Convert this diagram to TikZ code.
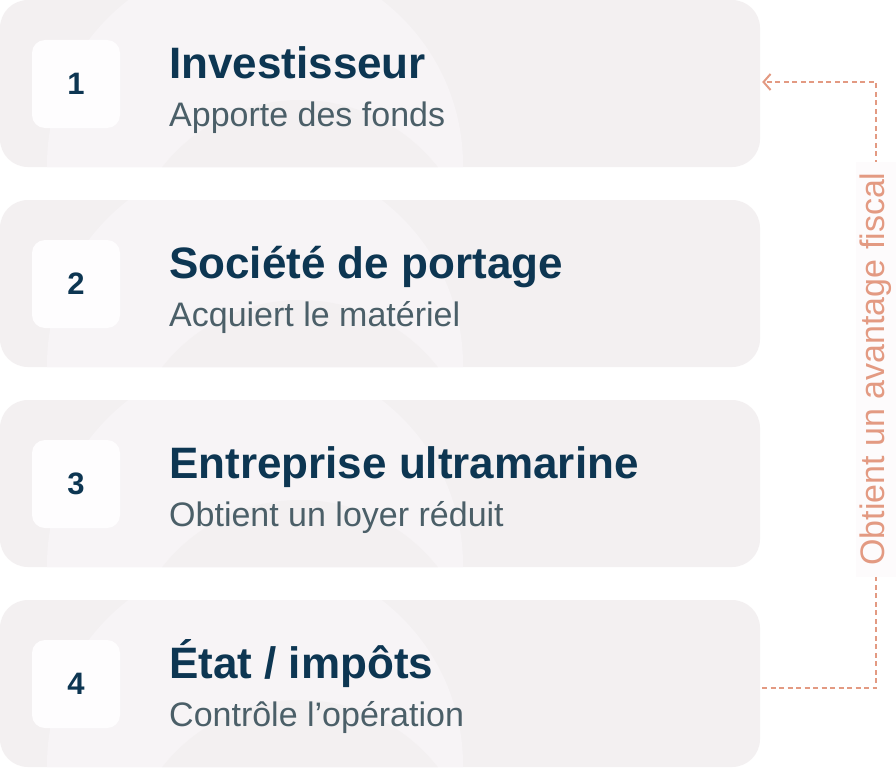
\documentclass[tikz,border=0pt]{standalone}
\usepackage{fontspec}
\setmainfont{Liberation Sans}
\usetikzlibrary{arrows.meta}
\definecolor{boxbg}{HTML}{F3F0F1}
\definecolor{boxlight}{HTML}{F7F4F6}
\definecolor{numbg}{HTML}{FEFDFE}
\definecolor{navy}{HTML}{0D3652}
\definecolor{slate}{HTML}{4B5F68}
\definecolor{salmon}{HTML}{E39A82}
\definecolor{labbg}{HTML}{FDFBFC}
\tikzset{
  stepbox/.style={rectangle, rounded corners=28pt, fill=boxbg, minimum width=760pt, minimum height=167pt, inner sep=0pt},
  numbox/.style={rectangle, rounded corners=13pt, fill=numbg, minimum size=88pt, inner sep=0pt, text=navy, font=\fontsize{31}{34}\selectfont\bfseries},
  ttl/.style={anchor=base west, inner sep=0pt, text=navy, font=\fontsize{44}{50}\selectfont\bfseries},
  sub/.style={anchor=base west, inner sep=0pt, text=slate, font=\fontsize{34}{40}\selectfont},
  conn/.style={draw=salmon, line width=2.2pt, dash pattern=on 5pt off 3.5pt},
  lab/.style={rotate=90, fill=labbg, text=salmon, inner sep=0pt, minimum width=415pt, minimum height=40pt, font=\fontsize{34}{40}\selectfont}
}
\begin{document}
\begin{tikzpicture}[x=1pt,y=-1pt]
\useasboundingbox (0,0) rectangle (896,768);
\fill[white] (0,0) rectangle (896,768);
\foreach \k/\num/\t/\s in {0/1/{Investisseur}/{Apporte des fonds}, 1/2/{Société de portage}/{Acquiert le matériel}, 2/3/{Entreprise ultramarine}/{Obtient un loyer réduit}, 3/4/{État / impôts}/{Contrôle l’opération}}{
  \pgfmathsetmacro{\yo}{200*\k}
  \node[stepbox] (b\num) at (380,\yo+83.5) {};
  \begin{scope}
    \clip[rounded corners=28pt] (0,\yo) rectangle (760,\yo+167);
    \fill[boxlight] (255,\yo+165) circle[radius=208pt];
    \fill[boxbg] (300,\yo+275) circle[radius=175pt];
  \end{scope}
  \node[numbox] (n\num) at (76,\yo+84) {\num};
  \node[ttl] (t\num) at (169,\yo+78) {\t};
  \node[sub] (s\num) at (169,\yo+126) {\s};
}
\draw[conn, -{Straight Barb[length=7pt,width=16pt,line width=2pt]}]
  ([xshift=2pt,yshift=-4.5pt]b4.east) -- ++(114,0) |- ([xshift=2pt,yshift=1.5pt]b1.east);
\node[lab] (l) at (876,369) {Obtient un avantage fiscal};
\end{tikzpicture}
\end{document}
